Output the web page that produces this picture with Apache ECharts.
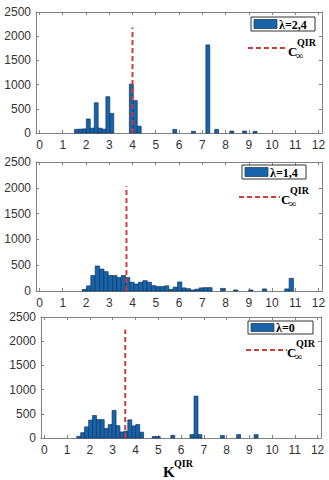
<!DOCTYPE html>
<html>
<head>
<meta charset="utf-8">
<script src="https://cdn.jsdelivr.net/npm/echarts@6/dist/echarts.min.js"></script>
<style>
  html, body { margin: 0; padding: 0; background: #fff; }
  #main { width: 329px; height: 480px; }
</style>
</head>
<body>
<div id="main"></div>
<script>
// tick labels
const xTicks = [0, 1, 2, 3, 4, 5, 6, 7, 8, 9, 10, 11, 12];
const yTicks = [0, 500, 1000, 1500, 2000, 2500];

// legend names
const panelNames = ['λ=2,4', 'λ=1,4', 'λ=0'];

// histogram bins: centers and counts, per panel
const centers1 = [1.59, 1.76, 1.93, 2.10, 2.27, 2.44, 2.60, 2.77, 2.94, 3.11, 3.95, 4.12, 4.29, 5.82, 6.62, 7.24, 7.62, 8.27, 8.82, 9.27];
const counts1 = [75, 80, 85, 290, 100, 625, 100, 80, 750, 405, 1010, 670, 140, 75, 35, 1820, 75, 40, 40, 35];

const centers2 = [1.93, 2.12, 2.30, 2.49, 2.68, 2.86, 3.05, 3.24, 3.42, 3.61, 3.79, 3.98, 4.17, 4.35, 4.54, 4.72, 4.91, 5.10, 5.28, 5.47, 5.65, 5.84, 6.03, 6.21, 6.40, 6.58, 6.77, 6.96, 7.14, 7.33, 7.88, 8.44, 9.09, 9.68, 10.64, 10.83];
const counts2 = [30, 100, 300, 485, 425, 375, 300, 300, 260, 300, 260, 170, 135, 170, 200, 170, 105, 85, 85, 100, 30, 75, 175, 60, 45, 20, 35, 60, 65, 65, 50, 20, 20, 40, 40, 245];

const centers3 = [1.51, 1.68, 1.85, 2.03, 2.20, 2.37, 2.54, 2.72, 2.89, 3.06, 3.23, 3.41, 3.58, 3.75, 3.93, 4.10, 4.27, 4.82, 5.00, 5.64, 6.48, 6.66, 6.83, 7.82, 8.53, 9.30];
const counts3 = [35, 110, 230, 370, 465, 380, 380, 195, 277, 570, 255, 125, 140, 375, 250, 280, 120, 30, 30, 55, 70, 865, 70, 50, 70, 70];

const binWidths = [0.168, 0.186, 0.173];

// C_inf^QIR position (x) and dashed line top (y)
const critX = [4.0, 3.74, 3.55];
const critTop = [2180, 2030, 2240];

const allCenters = [centers1, centers2, centers3];
const allCounts = [counts1, counts2, counts3];

const barFill = '#1764ab';
const barEdge = '#0e3560';
const red = '#d33a3a';
const tickFont = { fontFamily: 'Liberation Sans', fontSize: 12, color: '#333' };
const serif = '"Liberation Serif", "DejaVu Serif", serif';

const grids = [
  { left: 36, right: 7, top: 12, height: 121 },
  { left: 36, right: 7, top: 162, height: 129 },
  { left: 41, right: 8, top: 317, height: 121 }
];

let xAxes = [], yAxes = [], series = [];

function makeX(i, pos) {
  return {
    type: 'value', gridIndex: i, position: pos,
    min: -0.15, max: 12.15,
    splitLine: { show: false },
    axisLine: { show: true, onZero: false, lineStyle: { color: '#808080', width: 1 } },
    axisTick: { show: true, inside: true, length: 3, customValues: xTicks, lineStyle: { color: '#808080' } },
    axisLabel: Object.assign({ show: pos === 'bottom', margin: 6, customValues: xTicks, formatter: v => String(v) }, tickFont)
  };
}
function makeY(i, pos) {
  return {
    type: 'value', gridIndex: i, position: pos,
    min: 0, max: 2500, interval: 500,
    splitLine: { show: false },
    axisLine: { show: true, onZero: false, lineStyle: { color: '#808080', width: 1 } },
    axisTick: { show: true, inside: true, length: 3, customValues: yTicks, lineStyle: { color: '#808080' } },
    axisLabel: Object.assign({ show: pos === 'left', margin: 5, customValues: yTicks, formatter: v => String(v) }, tickFont)
  };
}

for (let i = 0; i < 3; i++) {
  xAxes.push(makeX(i, 'bottom'));
  yAxes.push(makeY(i, 'left'));
}
for (let i = 0; i < 3; i++) {
  xAxes.push(makeX(i, 'top'));
  yAxes.push(makeY(i, 'right'));
}

for (let i = 0; i < 3; i++) {
  const bw = binWidths[i];
  series.push({
    type: 'custom',
    name: panelNames[i],
    xAxisIndex: i, yAxisIndex: i,
    encode: { x: 0, y: 1 },
    data: allCenters[i].map((c, k) => [c, allCounts[i][k]]),
    renderItem: function (params, api) {
      const x = api.value(0), y = api.value(1);
      const p0 = api.coord([x - bw / 2, y]);
      const p1 = api.coord([x + bw / 2, 0]);
      return {
        type: 'rect',
        shape: { x: p0[0], y: p0[1], width: p1[0] - p0[0], height: p1[1] - p0[1] },
        style: { fill: barFill, stroke: barEdge, lineWidth: 0.7 }
      };
    },
    z: 2
  });
  series.push({
    type: 'line',
    xAxisIndex: i, yAxisIndex: i,
    data: [[critX[i], 0], [critX[i], critTop[i]]],
    symbol: 'none',
    lineStyle: { color: red, width: 2, type: [5, 3] },
    z: 5
  });
}

// legends drawn as graphic elements
const legendPos = [
  { box: [251, 17, 64, 14], dash: [248, 288, 48], c: [288, 51] },
  { box: [242, 165, 64, 14], dash: [239, 280, 197], c: [281, 199] },
  { box: [248, 321, 65, 13], dash: [246, 287, 350], c: [287, 352] }
];
let graphics = [];
legendPos.forEach((p, i) => {
  const [bx, by, bwid, bh] = p.box;
  graphics.push({ type: 'rect', shape: { x: bx, y: by, width: bwid, height: bh }, style: { fill: '#fff', stroke: '#333', lineWidth: 1 }, z: 10 });
  graphics.push({ type: 'rect', shape: { x: bx + 3, y: by + 2.5, width: 23, height: bh - 5 }, style: { fill: barFill, stroke: barEdge, lineWidth: 0.7 }, z: 11 });
  graphics.push({ type: 'text', x: bx + 28, y: by + bh / 2 + 0.5, style: { text: panelNames[i], font: 'bold 12px ' + serif, fill: '#000', verticalAlign: 'middle' }, z: 11 });
  graphics.push({ type: 'line', shape: { x1: p.dash[0], y1: p.dash[2], x2: p.dash[1], y2: p.dash[2] }, style: { stroke: red, lineWidth: 2, lineDash: [5, 3] }, z: 11 });
  graphics.push({ type: 'text', x: p.c[0], y: p.c[1], style: { text: 'C', font: 'bold 13px ' + serif, fill: '#000', verticalAlign: 'middle' }, z: 11 });
  graphics.push({ type: 'text', x: p.c[0] + 8, y: p.c[1] + 4, style: { text: '∞', font: 'bold 10px ' + serif, fill: '#000', verticalAlign: 'middle' }, z: 11 });
  graphics.push({ type: 'text', x: p.c[0] + 9, y: p.c[1] - 9, style: { text: 'QIR', font: 'bold 10px ' + serif, fill: '#000', verticalAlign: 'middle' }, z: 11 });
});
// x axis title K^QIR
graphics.push({ type: 'text', x: 163, y: 472, style: { text: 'K', font: 'bold 15px ' + serif, fill: '#000', verticalAlign: 'middle' } });
graphics.push({ type: 'text', x: 174, y: 463, style: { text: 'QIR', font: 'bold 10px ' + serif, fill: '#000', verticalAlign: 'middle' } });

const chart = echarts.init(document.getElementById('main'), null, { renderer: 'svg' });
chart.setOption({
  backgroundColor: '#fff',
  animation: false,
  grid: grids,
  xAxis: xAxes,
  yAxis: yAxes,
  series: series,
  graphic: graphics
});
</script>
</body>
</html>
